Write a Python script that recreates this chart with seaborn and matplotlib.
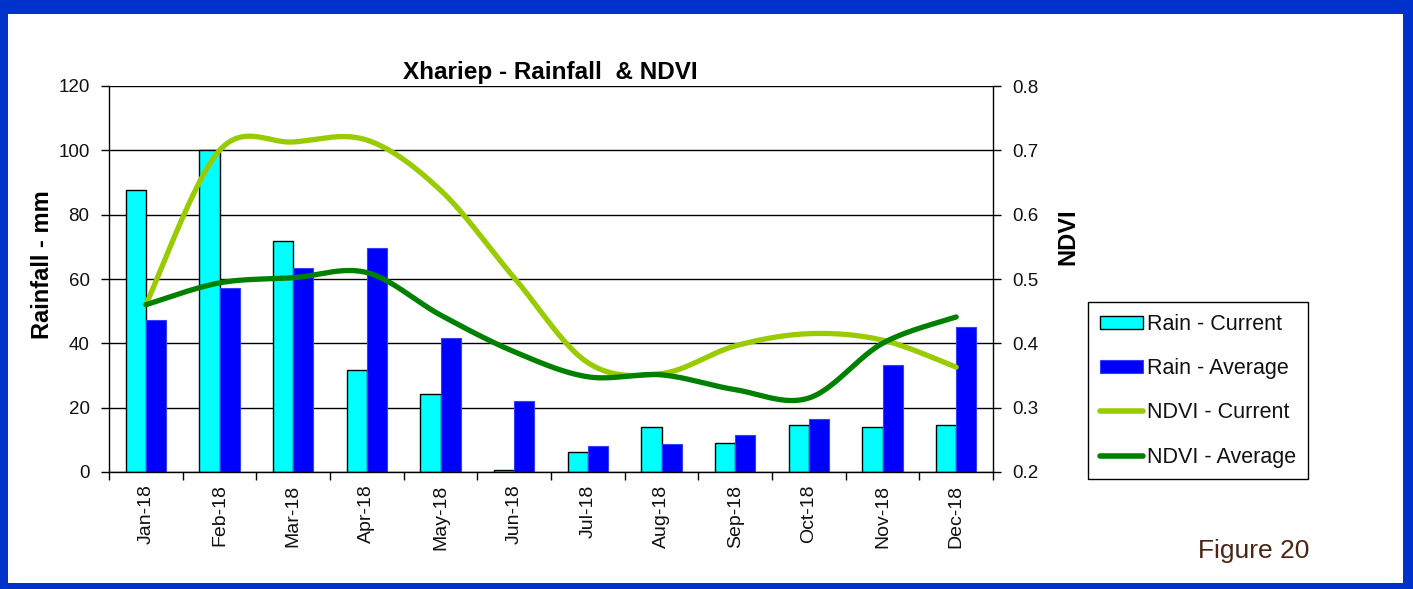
import numpy as np
import pandas as pd
import matplotlib
matplotlib.use("Agg")
import matplotlib.pyplot as plt
import matplotlib.patches as mpatches
from matplotlib.lines import Line2D
import seaborn as sns

months = ["Jan-18", "Feb-18", "Mar-18", "Apr-18", "May-18", "Jun-18",
          "Jul-18", "Aug-18", "Sep-18", "Oct-18", "Nov-18", "Dec-18"]
rain_current = [87.7, 100.2, 71.8, 31.7, 24.2, 0.5, 6.1, 14.0, 8.9, 14.5, 14.0, 14.5]
rain_average = [47.3, 57.2, 63.4, 69.6, 41.7, 22.2, 8.1, 8.6, 11.4, 16.5, 33.3, 45.1]
ndvi_current = [0.460, 0.700, 0.713, 0.716, 0.638, 0.502, 0.370, 0.353, 0.396, 0.415, 0.405, 0.363]
ndvi_average = [0.460, 0.494, 0.502, 0.510, 0.444, 0.387, 0.348, 0.351, 0.328, 0.315, 0.400, 0.441]

CYAN = "#00FFFF"
BLUE = "#0000FF"
LGREEN = "#99CC00"
DGREEN = "#008000"
BORDER = "#0033CC"

sns.set_theme(style="white")
plt.rcParams["font.family"] = ["Liberation Sans", "DejaVu Sans"]

W, H = 1413, 589
fig = plt.figure(figsize=(W / 100, H / 100), dpi=100, facecolor=BORDER)
# white panel
fig.patches.append(mpatches.Rectangle((8 / W, 1 - 583 / H), 1395 / W, 569 / H,
                                      transform=fig.transFigure, facecolor="white",
                                      edgecolor="none", zorder=-10))

ax = fig.add_axes([109 / W, 1 - 472 / H, (993 - 109) / W, (472 - 86) / H])
ax.set_facecolor("none")

df = pd.DataFrame({
    "month": months * 2,
    "value": rain_current + rain_average,
    "series": ["Rain - Current"] * 12 + ["Rain - Average"] * 12,
})
sns.barplot(data=df, x="month", y="value", hue="series", order=months,
            hue_order=["Rain - Current", "Rain - Average"],
            palette=[CYAN, BLUE], width=0.545, saturation=1, ax=ax,
            legend=False, zorder=2)
for i, cont in enumerate(ax.containers):
    for b in cont:
        if i == 0:
            b.set_edgecolor("black")
            b.set_linewidth(1.0)
        else:
            b.set_edgecolor("#3040FF")
            b.set_linewidth(0.8)

ax.set_xlim(-0.5, 11.5)
ax.set_ylim(0, 120)
ax.set_yticks(np.arange(0, 121, 20))
ax.yaxis.grid(True, color="black", linewidth=1.0, zorder=0)
ax.xaxis.grid(False)
ax.set_axisbelow(True)
for s in ["top", "right"]:
    ax.spines[s].set_visible(False)
for s in ["left", "bottom"]:
    ax.spines[s].set_color("black")
    ax.spines[s].set_linewidth(1.0)

ax.set_xticks(range(12))
ax.set_xticklabels(months, rotation=90, fontsize=14, color="#111111")
ax.set_xticks(np.arange(-0.5, 12, 1), minor=True)
ax.tick_params(axis="x", which="major", length=0, pad=9)
ax.tick_params(axis="x", which="minor", length=6, width=1, color="black", direction="out", bottom=True)
ax.tick_params(axis="y", which="major", length=6, width=1, color="black",
               direction="out", labelsize=13.5, labelcolor="#111111", pad=8, left=True)
ax.set_xlabel("")
ax.set_ylabel("")

ax2 = ax.twinx()
ax2.set_ylim(0.2, 0.8)
ax2.set_yticks(np.round(np.arange(0.2, 0.81, 0.1), 1))
ax2.set_yticklabels([f"{v:.1f}" for v in np.arange(0.2, 0.81, 0.1)])
ax2.grid(False)
for s in ["top", "left", "bottom"]:
    ax2.spines[s].set_visible(False)
ax2.spines["right"].set_color("black")
ax2.spines["right"].set_linewidth(1.0)
ax2.tick_params(axis="y", length=6, width=1, color="black", direction="out",
                labelsize=13.5, labelcolor="#111111", pad=8, right=True)
ax2.set_ylabel("")


def smooth(yvals, n=40):
    """Excel-style smoothed line (Bezier through data points)."""
    y = np.asarray(yvals, float)
    x = np.arange(len(y), dtype=float)
    P = np.column_stack([x, y])
    xs, ys = [], []
    for i in range(len(P) - 1):
        p0 = P[i - 1] if i > 0 else P[i]
        p1, p2 = P[i], P[i + 1]
        p3 = P[i + 2] if i + 2 < len(P) else P[i + 1]
        c1 = p1 + (p2 - p0) / 6
        c2 = p2 - (p3 - p1) / 6
        t = np.linspace(0, 1, n, endpoint=(i == len(P) - 2))[:, None]
        pts = ((1 - t) ** 3) * p1 + 3 * ((1 - t) ** 2) * t * c1 + 3 * (1 - t) * t ** 2 * c2 + t ** 3 * p2
        xs.extend(pts[:, 0]); ys.extend(pts[:, 1])
    return np.array(xs), np.array(ys)


for vals, col in [(ndvi_current, LGREEN), (ndvi_average, DGREEN)]:
    xs, ys = smooth(vals)
    sns.lineplot(x=xs, y=ys, ax=ax2, sort=False, estimator=None, color=col,
                 linewidth=3.8, solid_capstyle="round")
ax2.set_xlim(-0.5, 11.5)

fig.text(550 / W, 1 - 72 / H, "Xhariep - Rainfall  & NDVI", ha="center", va="center",
         fontsize=17.5, fontweight="bold", color="black")
fig.text(43 / W, 1 - 265 / H, "Rainfall - mm", rotation=90, ha="center", va="center",
         fontsize=17, fontweight="bold", color="black")
fig.text(1068 / W, 1 - 237 / H, "NDVI", rotation=90, ha="center", va="center",
         fontsize=17, fontweight="bold", color="black")

handles = [
    mpatches.Patch(facecolor=CYAN, edgecolor="black", linewidth=1.0, label="Rain - Current"),
    mpatches.Patch(facecolor=BLUE, edgecolor="#3040FF", linewidth=0.8, label="Rain - Average"),
    Line2D([0], [0], color=LGREEN, linewidth=4, label="NDVI - Current"),
    Line2D([0], [0], color=DGREEN, linewidth=4, label="NDVI - Average"),
]
leg = fig.legend(handles=handles, loc="upper left",
                 bbox_to_anchor=(1088 / W, 1 - 302 / H), fontsize=15.5,
                 frameon=True, fancybox=False, edgecolor="black", framealpha=1,
                 handlelength=2.0, handleheight=0.55, handletextpad=0.2,
                 labelspacing=1.08, borderpad=0.55, borderaxespad=0)
leg.get_frame().set_linewidth(1.0)
for t in leg.get_texts():
    t.set_color("#111111")

fig.text(1198 / W, 1 - 551 / H, "Figure 20", ha="left", va="center",
         fontsize=19, color="#4A2515")

fig.savefig("out.png", dpi=100, facecolor=BORDER)
